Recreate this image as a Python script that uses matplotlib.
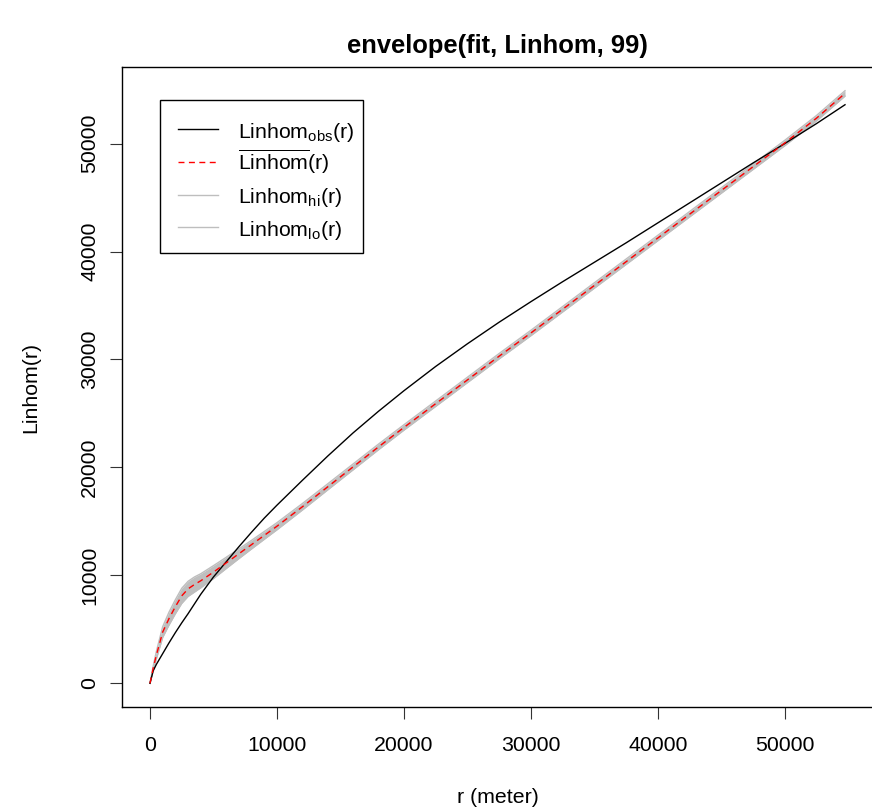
import matplotlib
matplotlib.use('Agg')
import matplotlib.pyplot as plt
from matplotlib.patches import Rectangle

plt.rcParams['font.family'] = ['Liberation Sans', 'DejaVu Sans']
plt.rcParams['mathtext.fontset'] = 'custom'
plt.rcParams['mathtext.rm'] = 'Liberation Sans'
plt.rcParams['mathtext.it'] = 'Liberation Sans:italic'
plt.rcParams['mathtext.bf'] = 'Liberation Sans:bold'

# ---- data ----
r = [0, 250, 500, 1000, 1500, 2000, 2500, 3000, 3500, 4000, 5000, 6000, 7000, 8000, 9000,
     10000, 12000, 14000, 16000, 18000, 20000, 22500, 25000, 27500, 30000,
     32500, 35000, 37500, 40000, 42500, 45000, 47500, 50000, 52500, 54750]

obs = [0, 1150, 1750, 2750, 3750, 4700, 5600, 6450, 7350, 8250, 9850, 11250, 12650, 14000, 15300,
       16500, 18800, 21050, 23200, 25200, 27100, 29350, 31450, 33450, 35350,
       37200, 39000, 40800, 42650, 44500, 46350, 48200, 50000, 51850, 53600]

theo = [0, 1400, 2600, 4750, 6000, 7100, 8100, 8750, 9150, 9500, 10300, 11150, 12000, 12850, 13700,
        14550, 16350, 18200, 20050, 21900, 23700, 25900, 28100, 30300, 32450,
        34650, 36850, 39050, 41250, 43450, 45650, 47850, 50050, 52350, 54650]

hi = [0, 1600, 2950, 5250, 6600, 7750, 8800, 9450, 9850, 10150, 10900, 11670, 12450, 13250, 14060,
      14880, 16650, 18480, 20320, 22160, 23950, 26150, 28350, 30550, 32700,
      34900, 37100, 39300, 41500, 43700, 45900, 48100, 50300, 52600, 54900]

lo = [0, 1200, 2250, 4250, 5400, 6450, 7400, 8050, 8450, 8850, 9700, 10630, 11550, 12450, 13340,
      14220, 16050, 17920, 19780, 21640, 23450, 25650, 27850, 30050, 32200,
      34400, 36600, 38800, 41000, 43200, 45400, 47600, 49800, 52100, 54400]

xticks = [0, 10000, 20000, 30000, 40000, 50000]
yticks = [0, 10000, 20000, 30000, 40000, 50000]

labels = [r'$\mathregular{Linhom_{obs}(r)}$',
          r'$\overline{\mathregular{Linhom}}\mathregular{(r)}$',
          r'$\mathregular{Linhom_{hi}(r)}$',
          r'$\mathregular{Linhom_{lo}(r)}$']

GREY = '#BEBEBE'
FS = 15.3
DASH = (4.3, 3.2)

# axes geometry in pixels
AX_L, AX_R, AX_T, AX_B = 122.2, 872.8, 67.0, 707.0
W, H = 872.0, 809.0

fig = plt.figure(figsize=(W / 100, H / 100), dpi=100)
ax = fig.add_axes([AX_L / W, 1 - AX_B / H, (AX_R - AX_L) / W, (AX_B - AX_T) / H])

ax.fill_between(r, lo, hi, color=GREY, lw=0, zorder=1)
ax.plot(r, hi, color=GREY, lw=1.0, zorder=2)
ax.plot(r, lo, color=GREY, lw=1.0, zorder=2)
ax.plot(r, obs, color='black', lw=1.0, zorder=3)
ax.plot(r, theo, color='red', lw=1.0, dashes=DASH, zorder=4)

rmax = max(r)
ymax = max(hi)
ax.set_xlim(-0.04 * rmax, 1.04 * rmax)
ax.set_ylim(-0.04 * ymax, 1.04 * ymax)
ax.set_xticks(xticks)
ax.set_yticks(yticks)
ax.set_xticklabels([str(v) for v in xticks])
ax.set_yticklabels([str(v) for v in yticks])
ax.tick_params(axis='both', direction='out', length=8.6, width=0.8,
               labelsize=FS, color='#333333')
ax.tick_params(axis='x', pad=12)
ax.tick_params(axis='y', pad=8)
for t in ax.get_yticklabels():
    t.set_rotation(90)
    t.set_va('center')

for s in ax.spines.values():
    s.set_linewidth(1.0)
    s.set_color('black')

ax.set_xlabel('r (meter)', fontsize=FS, labelpad=24)
ax.set_ylabel('Linhom(r)', fontsize=FS, labelpad=29)
fig.text(0.5 * (AX_L + AX_R) / W, 1 - 46 / H, 'envelope(fit, Linhom, 99)',
         ha='center', va='center', fontsize=18.4, fontweight='bold')


# ---- legend box drawn by hand (pixel layout of the reference) ----
def axx(px):
    return (px - AX_L) / (AX_R - AX_L)


def axy(py):
    return (AX_B - py) / (AX_B - AX_T)


ax.add_patch(Rectangle((axx(160), axy(253)), axx(363) - axx(160), axy(100) - axy(253),
                       transform=ax.transAxes, facecolor='white', edgecolor='black',
                       lw=1.0, zorder=10))
styles = [dict(color='black'), dict(color='red', dashes=DASH),
          dict(color=GREY), dict(color=GREY)]
baselines = [137.7, 170.5, 203.0, 235.5]
for lab, st, bl in zip(labels, styles, baselines):
    ly = bl - 8.4
    ax.plot([axx(178), axx(218)], [axy(ly), axy(ly)], transform=ax.transAxes,
            lw=1.0, zorder=11, clip_on=False, **st)
    ax.text(axx(238), axy(bl), lab, transform=ax.transAxes, fontsize=FS,
            ha='left', va='baseline', zorder=12)

fig.savefig('out.png', dpi=100)
